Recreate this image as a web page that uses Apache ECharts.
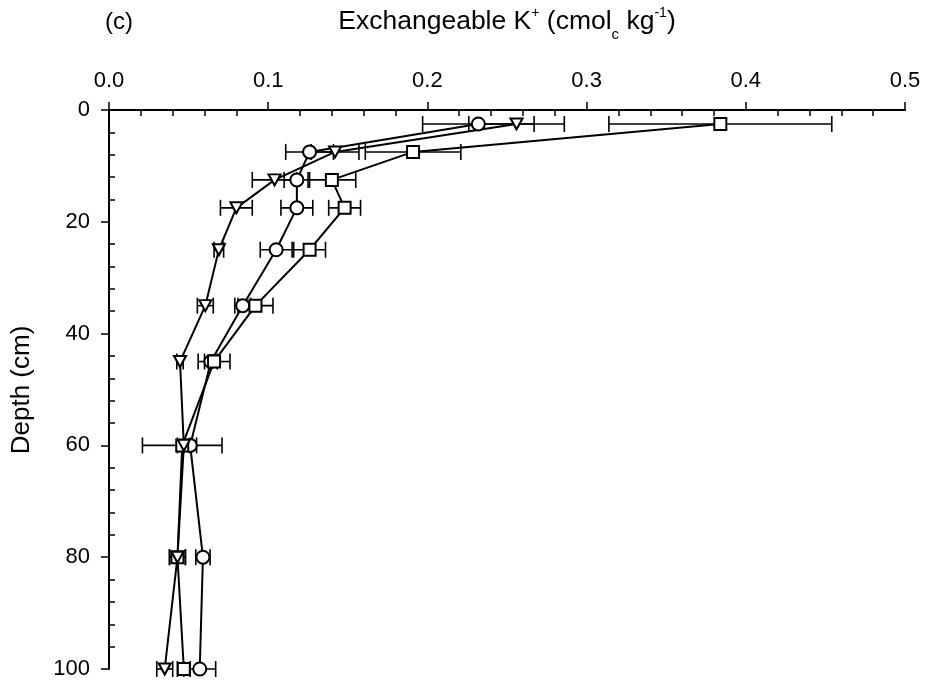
<!DOCTYPE html>
<html>
<head>
<meta charset="utf-8">
<script src="https://cdn.jsdelivr.net/npm/echarts@6/dist/echarts.min.js"></script>
<style>
html,body{margin:0;padding:0;background:#fff;}
#c{width:930px;height:685px;}
</style>
</head>
<body>
<div id="c"></div>
<script>
// Depth (cm) of each sampling layer
var depths = [2.5, 7.5, 12.5, 17.5, 25, 35, 45, 60, 80, 100];
// Circle series
var circleVals = [0.232, 0.126, 0.118, 0.118, 0.105, 0.084, 0.064, 0.051, 0.059, 0.057];
var circleErr  = [0.035, 0.015, 0.008, 0.010, 0.010, 0.005, 0.004, 0.004, 0.0045, 0.010];
// Triangle series
var triVals = [0.256, 0.142, 0.104, 0.080, 0.069, 0.0605, 0.0446, 0.047, 0.043, 0.035];
var triErr  = [0.030, 0.015, 0.014, 0.010, 0.003, 0.005, 0.002, 0.004, 0.005, 0.005];
// Square series
var sqVals = [0.384, 0.191, 0.140, 0.148, 0.126, 0.092, 0.066, 0.046, 0.043, 0.047];
var sqErr  = [0.070, 0.030, 0.015, 0.010, 0.010, 0.011, 0.010, 0.025, 0.005, 0.004];
// Axis tick values
var xTicks = [0.0, 0.1, 0.2, 0.3, 0.4, 0.5];
var yTicks = [0, 20, 40, 60, 80, 100];

var FONT = 'Liberation Sans, Arial, sans-serif';

function lineSeries(vals, symbol, size, rotate) {
  return {
    type: 'line',
    data: depths.map(function (d, i) { return [vals[i], d]; }),
    symbol: symbol,
    symbolSize: size,
    symbolRotate: rotate || 0,
    showAllSymbol: true,
    lineStyle: { color: '#000', width: 2 },
    itemStyle: { color: '#fff', borderColor: '#000', borderWidth: 2 },
    z: 3,
    clip: false,
    animation: false
  };
}

function errSeries(vals, errs) {
  return {
    type: 'custom',
    data: depths.map(function (d, i) { return [vals[i], d, errs[i]]; }),
    encode: { x: 0, y: 1 },
    z: 2,
    clip: false,
    silent: true,
    animation: false,
    renderItem: function (params, api) {
      var x = api.value(0), y = api.value(1), e = api.value(2);
      var p1 = api.coord([x - e, y]);
      var p2 = api.coord([x + e, y]);
      var h = 8;
      var st = { stroke: '#000', lineWidth: 1.6 };
      return {
        type: 'group',
        children: [
          { type: 'line', shape: { x1: p1[0], y1: p1[1], x2: p2[0], y2: p2[1] }, style: st },
          { type: 'line', shape: { x1: p1[0], y1: p1[1] - h, x2: p1[0], y2: p1[1] + h }, style: st },
          { type: 'line', shape: { x1: p2[0], y1: p2[1] - h, x2: p2[0], y2: p2[1] + h }, style: st }
        ]
      };
    }
  };
}

var chart = echarts.init(document.getElementById('c'), null, { renderer: 'canvas' });
chart.setOption({
  backgroundColor: '#fff',
  animation: false,
  textStyle: { fontFamily: FONT, color: '#000' },
  grid: { left: 109, right: 25, top: 110, bottom: 16, containLabel: false, outerBoundsMode: 'none' },
  xAxis: {
    type: 'value',
    position: 'top',
    min: xTicks[0],
    max: xTicks[xTicks.length - 1],
    interval: 0.1,
    axisLine: { show: true, lineStyle: { color: '#000', width: 2 } },
    axisTick: { show: true, length: 8, lineStyle: { color: '#000', width: 1.5 } },
    minorTick: { show: true, splitNumber: 5, length: -6, lineStyle: { color: '#000', width: 1.5 } },
    splitLine: { show: false },
    axisLabel: {
      margin: 18, fontSize: 22, color: '#000', fontFamily: FONT,
      formatter: function (v) { return v.toFixed(1); },
      showMinLabel: true, showMaxLabel: true
    }
  },
  yAxis: {
    type: 'value',
    inverse: true,
    min: yTicks[0],
    max: yTicks[yTicks.length - 1],
    interval: 20,
    axisLine: { show: true, lineStyle: { color: '#000', width: 2 } },
    axisTick: { show: true, length: 8, lineStyle: { color: '#000', width: 1.5 } },
    minorTick: { show: true, splitNumber: 5, length: -6, lineStyle: { color: '#000', width: 1.5 } },
    splitLine: { show: false },
    axisLabel: { margin: 19, fontSize: 22, color: '#000', fontFamily: FONT }
  },
  graphic: [
    {
      type: 'text', x: 105, y: 22,
      style: { text: '(c)', fontSize: 24, fontFamily: FONT, fill: '#000', align: 'left', verticalAlign: 'middle' }
    },
    {
      type: 'text', x: 22, y: 390, rotation: Math.PI / 2,
      style: { text: 'Depth (cm)', fontSize: 26, fontFamily: FONT, fill: '#000', align: 'center', verticalAlign: 'middle' }
    },
    {
      type: 'text', x: 507, y: 22,
      style: {
        text: '{n|Exchangeable K}{sup|+}{n| (cmol}{sub|c}{n| kg}{sup|-1}{n|)}',
        align: 'center', verticalAlign: 'middle',
        fill: '#000', fontFamily: FONT,
        rich: {
          n: { fontSize: 26.5, fontFamily: FONT, fill: '#000', lineHeight: 30 },
          sup: { fontSize: 14, fontFamily: FONT, fill: '#000', verticalAlign: 'top', lineHeight: 40, padding: [4, 0, 0, 0] },
          sub: { fontSize: 15, fontFamily: FONT, fill: '#000', verticalAlign: 'bottom', lineHeight: 40 }
        }
      }
    }
  ],
  series: [
    errSeries(circleVals, circleErr),
    errSeries(triVals, triErr),
    errSeries(sqVals, sqErr),
    lineSeries(circleVals, 'circle', 13),
    lineSeries(sqVals, 'rect', 12),
    lineSeries(triVals, 'triangle', [12, 11], 180)
  ]
});
</script>
</body>
</html>
